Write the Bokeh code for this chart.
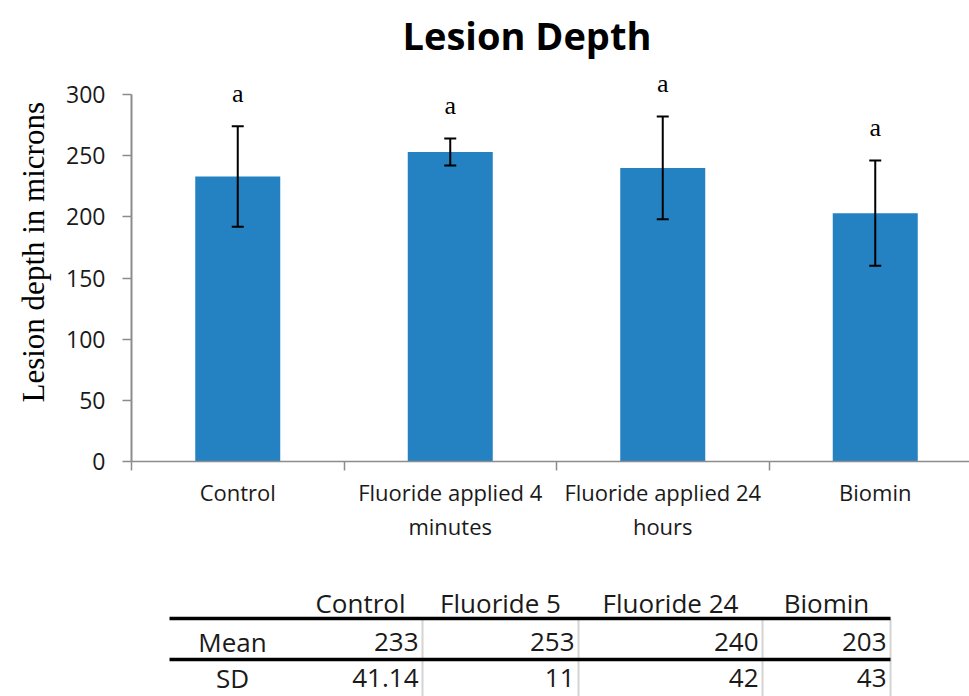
from bokeh.plotting import figure
from bokeh.models import Range1d, FixedTicker, Whisker, ColumnDataSource, TeeHead, Title
from bokeh.layouts import column
from bokeh.embed import file_html
from bokeh.resources import INLINE
from bokeh.core.properties import value

# ---------------- data ----------------
categories = ["Control", "Fluoride applied 4\nminutes", "Fluoride applied 24\nhours", "Biomin"]
table_headers = ["Control", "Fluoride 5", "Fluoride 24", "Biomin"]
row_labels = ["Mean", "SD"]
means = [233, 253, 240, 203]
sds = [41.14, 11, 42, 43]
sd_labels = ["41.14", "11", "42", "43"]
sig_letters = ["a", "a", "a", "a"]
y_ticks = [0, 50, 100, 150, 200, 250, 300]

# ---------------- layout ----------------
W = 969
CHART_H = 580
TABLE_H = 116
LEFT, TOP, BOTTOM = 131, 67, 119
PX_PER_CAT = 212.5
PX_PER_UNIT = 367 / 300
frame_w = W - LEFT
frame_h = CHART_H - TOP - BOTTOM
x_end = frame_w / PX_PER_CAT
y_end = frame_h / PX_PER_UNIT

BLUE = "#2481c2"
AXIS = "#8c8c8c"
SANS = "Open Sans"
SERIF = "Liberation Serif"

xs = [i + 0.5 for i in range(len(categories))]
bounds_ticks = [i for i in range(len(categories) + 1)]
upper = [m + s for m, s in zip(means, sds)]
lower = [m - s for m, s in zip(means, sds)]
src = ColumnDataSource(dict(x=xs, top=means, upper=upper, lower=lower, letter=sig_letters))

p = figure(width=W, height=CHART_H, x_range=Range1d(0, x_end), y_range=Range1d(0, y_end),
           output_backend="svg", toolbar_location=None,
           min_border_left=LEFT, min_border_top=TOP, min_border_bottom=BOTTOM, min_border_right=0)
p.outline_line_color = None
p.xgrid.grid_line_color = None
p.ygrid.grid_line_color = None

p.title.text = "Lesion Depth"
p.title.align = "left"
p.title.offset = 271
p.title.standoff = 13
p.title.text_font = SANS
p.title.text_font_size = "38px"
p.title.text_font_style = "bold"
p.title.text_color = "#000000"

# y axis title as a left-side title so it can be positioned along the axis
ytitle = Title(text="Lesion depth in microns", align="left", offset=59, standoff=26,
               text_font=SERIF, text_font_size="31px", text_font_style="normal",
               text_color="#000000")
p.add_layout(ytitle, "left")

p.vbar(x="x", top="top", width=0.4, bottom=0, source=src, fill_color=BLUE, line_color=None)

wh = Whisker(base="x", upper="upper", lower="lower", source=src, line_color="black", line_width=2,
             upper_head=TeeHead(size=12, line_width=2, line_color="black"),
             lower_head=TeeHead(size=12, line_width=2, line_color="black"), level="annotation")
p.add_layout(wh)

p.text(x="x", y="upper", text="letter", source=src, y_offset=-33, text_align="center",
       text_baseline="middle", text_font=value(SERIF), text_font_size="26px", text_color="black")

# y axis
ya = p.yaxis[0]
ya.ticker = FixedTicker(ticks=y_ticks)
ya.bounds = (0, 300)
ya.axis_line_color = AXIS
ya.axis_line_width = 2
ya.major_tick_line_color = AXIS
ya.major_tick_line_width = 1.5
ya.major_tick_out = 9
ya.major_tick_in = 0
ya.minor_tick_line_color = None
ya.major_label_standoff = 17
ya.major_label_text_font = SANS
ya.major_label_text_font_size = "23px"
ya.major_label_text_color = "#1a1a1a"

# x axis
xa = p.xaxis[0]
xa.ticker = FixedTicker(ticks=xs, minor_ticks=bounds_ticks)
xa.major_label_overrides = {x: c for x, c in zip(xs, categories)}
xa.axis_line_color = AXIS
xa.axis_line_width = 1.5
xa.major_tick_line_color = None
xa.minor_tick_line_color = AXIS
xa.minor_tick_line_width = 1.5
xa.minor_tick_out = 9
xa.minor_tick_in = 0
xa.major_label_standoff = 6
xa.major_label_text_font = SANS
xa.major_label_text_font_size = "22px"
xa.major_label_text_color = "#1a1a1a"
xa.major_label_text_line_height = 1.15

# ---------------- table ----------------
t = figure(width=W, height=TABLE_H, x_range=Range1d(LEFT, W), y_range=Range1d(TABLE_H, 0),
           output_backend="svg", toolbar_location=None, min_border=0, min_border_left=LEFT,
           min_border_right=0, x_axis_type=None, y_axis_type=None)
t.outline_line_color = None
t.grid.visible = False

col_start = 298
seps = [422, 578, 762, 890]
table_left = 169
label_cx = 232
header_base, mean_base, sd_base = 22, 61, 97
line1, line2 = 38, 79

edges = [col_start] + seps
header_x = [(a + b) / 2 for a, b in zip(edges[:-1], edges[1:])]
val_x = [s - 4 for s in seps]

tfont = dict(text_font=value(SANS), text_font_size="26px", text_color="#1a1a1a", text_baseline="alphabetic")
t.text(x=header_x, y=[header_base] * len(table_headers), text=table_headers, text_align="center", **tfont)
t.text(x=[label_cx, label_cx], y=[mean_base, sd_base], text=row_labels, text_align="center", **tfont)
t.text(x=val_x, y=[mean_base] * len(means), text=[str(m) for m in means], text_align="right", **tfont)
t.text(x=val_x, y=[sd_base] * len(sd_labels), text=sd_labels, text_align="right", **tfont)

t.segment(x0=seps, y0=[line1] * len(seps), x1=seps, y1=[TABLE_H] * len(seps), line_color="#d4d4d4", line_width=2)
t.segment(x0=[table_left] * 2, y0=[line1, line2], x1=[seps[-1]] * 2, y1=[line1, line2], line_color="black", line_width=3.5)

layout = column(p, t, spacing=0)
open("out.html", "w").write(file_html(layout, INLINE))
